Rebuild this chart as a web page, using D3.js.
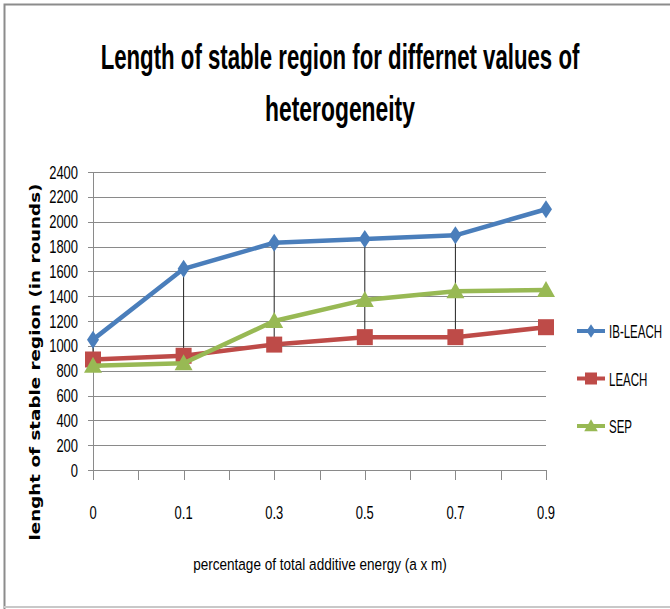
<!DOCTYPE html>
<html>
<head>
<meta charset="utf-8">
<script src="https://cdn.jsdelivr.net/npm/d3@7"></script>
<style>
  body { margin: 0; background: #ffffff; }
  svg { display: block; }
</style>
</head>
<body>
<div id="chart"></div>
<script>
// chart data
var categories = ["0", "0.1", "0.3", "0.5", "0.7", "0.9"];
var ibLeach = [1050, 1620, 1830, 1860, 1890, 2100];
var leach = [890, 920, 1010, 1070, 1070, 1150];
var sep = [840, 860, 1200, 1370, 1440, 1450];
var yTicks = [0, 200, 400, 600, 800, 1000, 1200, 1400, 1600, 1800, 2000, 2200, 2400];
var seriesNames = ["IB-LEACH", "LEACH", "SEP"];

var W = 670, H = 609;
var font = "'Liberation Sans', Arial, sans-serif";
var colors = {"IB-LEACH": "#4a7ebb", "LEACH": "#be4b48", "SEP": "#98b954"};
var shapes = {"IB-LEACH": "diamond", "LEACH": "square", "SEP": "triangle"};
var series = [
  {name: seriesNames[0], values: ibLeach},
  {name: seriesNames[1], values: leach},
  {name: seriesNames[2], values: sep}
];

var svg = d3.select("#chart").append("svg")
  .attr("width", W)
  .attr("height", H);

// text squeezed horizontally (the original uses a narrow font)
// fit = fixed width in px, or scale = horizontal factor
function narrowText(parent, px, py, str, size, bold, anchor, fit, scale) {
  var g = parent.append("g");
  var t = g.append("text")
    .attr("text-anchor", anchor)
    .style("font-family", font)
    .style("font-weight", bold ? "bold" : "normal")
    .style("font-size", size + "px")
    .attr("fill", "#000")
    .text(str);
  var k = fit ? fit / t.node().getComputedTextLength() : scale;
  g.attr("transform", "translate(" + px + "," + py + ") scale(" + k + ",1)");
  return g;
}

// outer frame (left/top/bottom visible)
svg.append("path")
  .attr("d", "M4.5,609 L4.5,4.5 L670,4.5")
  .attr("fill", "none")
  .attr("stroke", "#8c8c8c")
  .attr("stroke-width", 2);
svg.append("line")
  .attr("x1", 4).attr("x2", 670)
  .attr("y1", 607).attr("y2", 607)
  .attr("stroke", "#c8c8c8")
  .attr("stroke-width", 2);

// title
narrowText(svg, 340, 69, "Length of stable region for differnet values of", 35, true, "middle", 479);
narrowText(svg, 340, 121, "heterogeneity", 35, true, "middle", 150);

var plotLeft = 93, plotRight = 546, plotTop = 172, plotBottom = 470;

var x = d3.scalePoint()
  .domain(categories)
  .range([plotLeft, plotRight]);

var y = d3.scaleLinear()
  .domain([0, 2400])
  .range([plotBottom, plotTop]);

// gridlines
svg.append("g")
  .selectAll("line")
  .data(yTicks)
  .join("line")
  .attr("x1", plotLeft - 5)
  .attr("x2", plotRight)
  .attr("y1", function(d) { return Math.round(y(d)) + 0.5; })
  .attr("y2", function(d) { return Math.round(y(d)) + 0.5; })
  .attr("stroke", "#8a8a8a")
  .attr("stroke-width", 1);

// y axis line
svg.append("line")
  .attr("x1", plotLeft + 0.5).attr("x2", plotLeft + 0.5)
  .attr("y1", plotTop).attr("y2", plotBottom)
  .attr("stroke", "#8a8a8a");

// y tick labels
var yLabels = svg.append("g");
yTicks.forEach(function(d) {
  narrowText(yLabels, plotLeft - 15, y(d) + 6.5, d, 18, false, "end", null, 0.72);
});

// x axis ticks (at categories and halfway between)
var step = x.step();
var xTickPos = [];
categories.forEach(function(c, i) {
  xTickPos.push(x(c));
  if (i < categories.length - 1) xTickPos.push(x(c) + step / 2);
});
svg.append("g")
  .selectAll("line")
  .data(xTickPos)
  .join("line")
  .attr("x1", function(d) { return Math.round(d) + 0.5; })
  .attr("x2", function(d) { return Math.round(d) + 0.5; })
  .attr("y1", plotBottom)
  .attr("y2", plotBottom + 10)
  .attr("stroke", "#8a8a8a");

// x tick labels
var xLabels = svg.append("g");
categories.forEach(function(c) {
  narrowText(xLabels, x(c), 519, c, 18, false, "middle", null, 0.72);
});

// axis titles
svg.append("text")
  .attr("transform", "translate(40,362) rotate(-90)")
  .attr("text-anchor", "middle")
  .style("font-family", "'DejaVu Sans', Verdana, sans-serif")
  .style("font-weight", "bold")
  .style("font-size", "14.5px")
  .attr("fill", "#000")
  .text("lenght of stable  region (in rounds)")
  .attr("textLength", 357).attr("lengthAdjust", "spacingAndGlyphs");

narrowText(svg, 320, 570, "percentage of total additive energy (a x m)", 17, false, "middle", 254);

// high-low lines (the picture shows none at the last category)
var hiLowCats = categories.slice(0, categories.length - 1);
svg.append("g")
  .selectAll("line")
  .data(hiLowCats)
  .join("line")
  .attr("x1", function(d) { return x(d); })
  .attr("x2", function(d) { return x(d); })
  .attr("y1", function(d, i) { return y(Math.max(ibLeach[i], leach[i], sep[i])); })
  .attr("y2", function(d, i) { return y(Math.min(ibLeach[i], leach[i], sep[i])); })
  .attr("stroke", "#222")
  .attr("stroke-width", 1);

var line = d3.line()
  .x(function(d, i) { return x(categories[i]); })
  .y(function(d) { return y(d); });

function marker(sel, shape, color, k) {
  k = k || 1;
  if (shape === "diamond") {
    sel.append("path").attr("d", "M0,-9 L6,0 L0,9 L-6,0 Z").attr("fill", color).attr("transform", "scale(" + k + ")");
  } else if (shape === "square") {
    sel.append("rect").attr("x", -8).attr("y", -8).attr("width", 16).attr("height", 16).attr("fill", color).attr("transform", "scale(" + k + ")");
  } else {
    sel.append("path").attr("d", "M0,-9 L9,7 L-9,7 Z").attr("fill", color).attr("transform", "scale(" + k + ")");
  }
}

series.forEach(function(s) {
  var color = colors[s.name];
  svg.append("path")
    .datum(s.values)
    .attr("d", line)
    .attr("fill", "none")
    .attr("stroke", color)
    .attr("stroke-width", 4.5)
    .attr("stroke-linejoin", "round");
  svg.append("g")
    .selectAll("g")
    .data(s.values)
    .join("g")
    .attr("transform", function(d, i) { return "translate(" + x(categories[i]) + "," + y(d) + ")"; })
    .each(function() { marker(d3.select(this), shapes[s.name], color); });
});

// legend
var legend = svg.append("g")
  .selectAll("g")
  .data(series)
  .join("g")
  .attr("transform", function(d, i) { return "translate(577," + (331 + i * 47.5) + ")"; });
legend.append("line")
  .attr("x1", 0).attr("x2", 28)
  .attr("stroke", function(d) { return colors[d.name]; })
  .attr("stroke-width", 4);
legend.each(function(d) {
  var g = d3.select(this).append("g").attr("transform", "translate(14,0)");
  marker(g, shapes[d.name], colors[d.name], 0.75);
  narrowText(d3.select(this), 32, 7, d.name, 18, false, "start", null, 0.64);
});
</script>
</body>
</html>
